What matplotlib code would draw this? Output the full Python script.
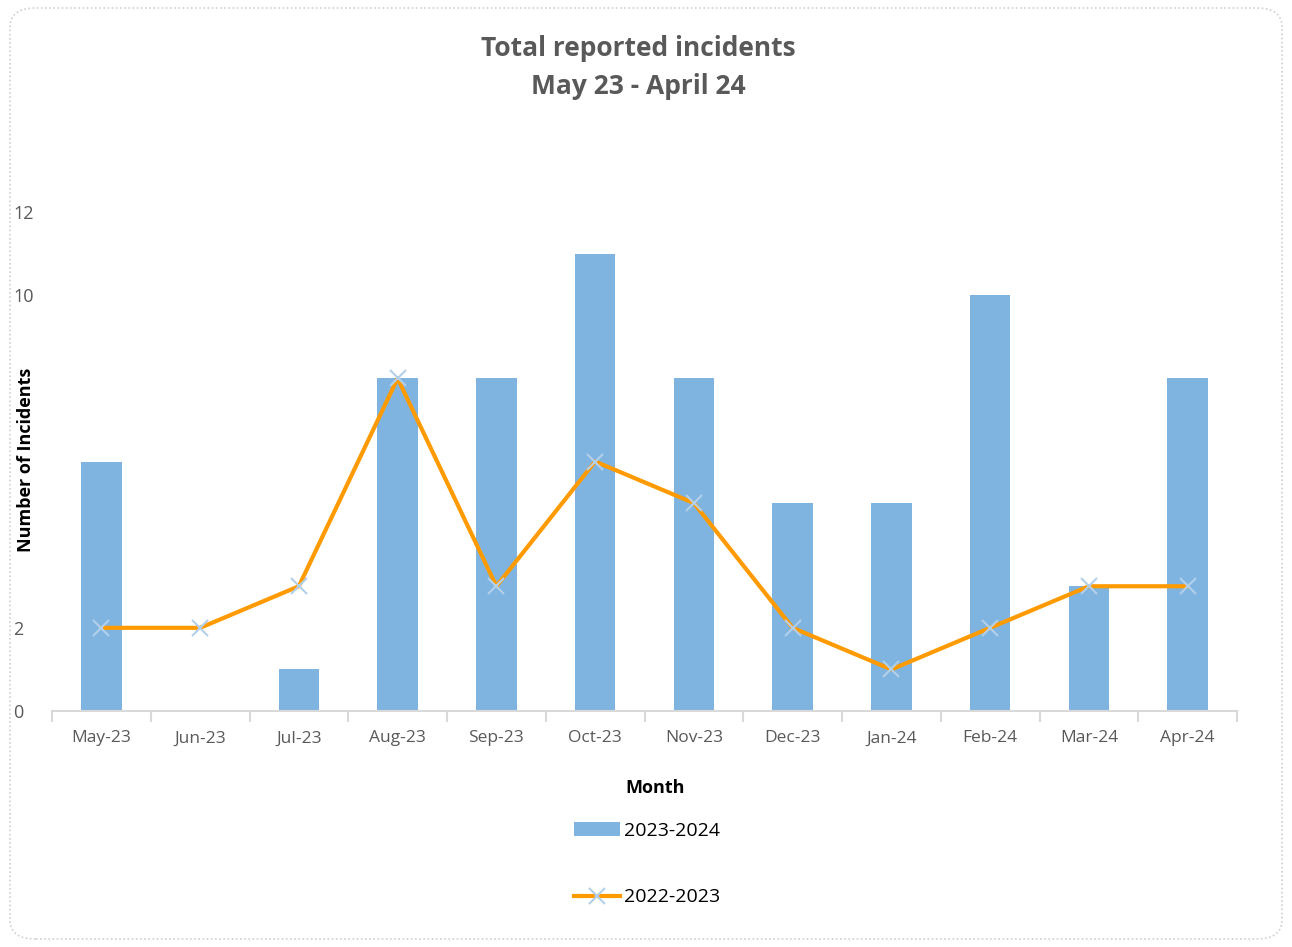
import matplotlib
matplotlib.use("Agg")
import matplotlib.pyplot as plt
from matplotlib.patches import FancyBboxPatch

# monthly incident counts
months = ["May-23", "Jun-23", "Jul-23", "Aug-23", "Sep-23", "Oct-23",
          "Nov-23", "Dec-23", "Jan-24", "Feb-24", "Mar-24", "Apr-24"]
incidents_2324 = [6, 0, 1, 8, 8, 11, 8, 5, 5, 10, 3, 8]
incidents_2223 = [2, 2, 3, 8, 3, 6, 5, 2, 1, 2, 3, 3]
ytick_values = [0, 2, 10, 12]

plt.rcParams['font.family'] = ['Open Sans', 'DejaVu Sans']

W, H = 1292, 947
fig = plt.figure(figsize=(W / 100, H / 100), dpi=100)

# rounded dotted chart border
border = FancyBboxPatch((10 / W, 8 / H), (W - 20) / W, (H - 16) / H,
                        boxstyle="round,pad=0,rounding_size=0.02",
                        transform=fig.transFigure, fill=False,
                        edgecolor="#d0d0d0", linestyle=(0, (1, 1.5)), linewidth=1.2)
fig.patches.append(border)

ax = fig.add_axes([52 / W, (H - 711) / H, (1237 - 52) / W, (711 - 212) / H])
x = list(range(len(months)))

bars = ax.bar(x, incidents_2324, width=0.41, color="#7fb4e1", label="2023-2024", zorder=2)
line, = ax.plot(x, incidents_2223, color="#ff9a00", linewidth=3, marker="x",
                markersize=11, markeredgecolor="#b3d0ea", markeredgewidth=1.5,
                label="2022-2023", zorder=3)

ax.set_xlim(-0.5, len(months) - 0.5)
ax.set_ylim(0, 12)
ax.set_yticks(ytick_values)
ax.set_yticklabels([str(v) for v in ytick_values], ha="left")
ax.set_xticks(x)
ax.set_xticklabels(months)
ax.set_xticks([i - 0.5 for i in range(len(months) + 1)], minor=True)

for s in ["top", "right", "left"]:
    ax.spines[s].set_visible(False)
ax.spines["bottom"].set_color("#d9d9d9")
ax.spines["bottom"].set_linewidth(1.5)
ax.tick_params(axis="y", length=0, labelsize=13, labelcolor="#595959", pad=28)
ax.tick_params(axis="x", which="major", length=0, labelsize=12.5,
               labelcolor="#595959", pad=14)
ax.tick_params(axis="x", which="minor", length=8, width=1.5, color="#d9d9d9")

fig.text(638 / W, 1 - 48 / H, "Total reported incidents", ha="center", va="center",
         fontsize=19, fontweight="bold", color="#595959")
fig.text(638 / W, 1 - 87 / H, "May 23 - April 24", ha="center", va="center",
         fontsize=19, fontweight="bold", color="#595959")

fig.text(26 / W, 1 - 460 / H, "Number of Incidents", rotation=90, ha="center",
         va="center", fontsize=13, fontweight="bold", color="black")
fig.text(655 / W, 1 - 788 / H, "Month", ha="center", va="center",
         fontsize=13, fontweight="bold", color="black")

fig.legend([bars, line], ["2023-2024", "2022-2023"], loc="center",
           bbox_to_anchor=(647 / W, 1 - 864 / H), frameon=False,
           fontsize=14, labelspacing=2.5, handlelength=2.4, handletextpad=0.2)

fig.savefig("out.png", dpi=100)
